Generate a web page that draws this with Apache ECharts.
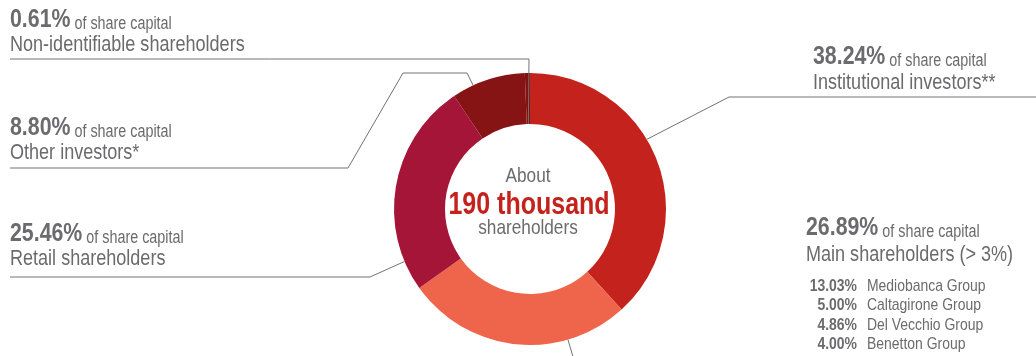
<!DOCTYPE html>
<html>
<head>
<meta charset="utf-8">
<script src="https://cdn.jsdelivr.net/npm/echarts@6/dist/echarts.min.js"></script>
<style>
  html, body { margin: 0; padding: 0; background: #ffffff; }
  #chart { width: 1036px; height: 356px; }
</style>
</head>
<body>
<div id="chart"></div>
<script>
// Shareholder structure (% of share capital), clockwise from 12 o'clock
const categories = [
  'Institutional investors**',
  'Main shareholders (> 3%)',
  'Retail shareholders',
  'Other investors*',
  'Non-identifiable shareholders'
];
const shares = [38.24, 26.89, 25.46, 8.80, 0.61];

// Breakdown of the main shareholders block
const mainHolders = ['Mediobanca Group', 'Caltagirone Group', 'Del Vecchio Group', 'Benetton Group'];
const mainHolderShares = [13.03, 5.00, 4.86, 4.00];

const centerLines = ['About', '190 thousand', 'shareholders'];
const capitalNote = 'of share capital';

// ---- styling / layout ----
// a condensed grotesque look: Liberation Sans squeezed horizontally
const FONT = "'Liberation Sans', Arial, sans-serif";
const SQUEEZE = 0.82;
const GREY = '#6b6b6e';
const LINE = '#737373';
const sliceColors = ['#c4221c', '#ef654b', '#a51538', '#871414', '#7d1313'];
const CX = 530, CY = 209, R_IN = 85, R_OUT = 136;

// label blocks: text position + leader line route (ring anchor is added from the slice geometry)
const blocks = [
  { x: 813, b1: 65,  b2: 90,  frac: 0.43, r: R_OUT, route: [[729, 97], [1036, 97]] },
  { x: 806, b1: 236, b2: 262, frac: 0.27, r: R_OUT, route: [[574, 360]] },
  { x: 10,  b1: 242, b2: 266, frac: 0.14, r: R_OUT, route: [[370, 277], [10, 277]] },
  { x: 10,  b1: 136, b2: 160, frac: 0.29, r: R_OUT, route: [[467, 73], [403, 73], [348, 168], [10, 168]] },
  { x: 10,  b1: 28,  b2: 52,  frac: 0.5,  r: R_IN,  route: [[529, 59], [10, 59]] }
];

function ringPoint(deg, r) {
  const a = deg * Math.PI / 180;
  return [CX + r * Math.sin(a), CY - r * Math.cos(a)];
}

const total = shares.reduce((s, v) => s + v, 0);
let acc = 0;
const graphics = [];

// places text so that its alphabetic baseline sits at `baseline`
function plainText(x, baseline, text, size, opts) {
  opts = opts || {};
  return {
    type: 'text', z: 10, silent: true,
    x: x, y: baseline - 0.3 * size, scaleX: SQUEEZE,
    style: {
      text: text, fontFamily: FONT, fontSize: size,
      fontWeight: opts.weight || 'normal',
      fill: opts.fill || GREY,
      align: opts.align || 'left', verticalAlign: 'middle'
    }
  };
}

function headerText(x, baseline, value) {
  const F1 = 26, F2 = 17.5;
  return {
    type: 'text', z: 10, silent: true,
    x: x, y: baseline + 0.2 * F1, scaleX: SQUEEZE,
    style: {
      text: '{p|' + value.toFixed(2) + '%}{s| ' + capitalNote + '}',
      align: 'left', verticalAlign: 'bottom',
      rich: {
        p: { fontFamily: FONT, fontSize: F1, fontWeight: 'bold', fill: GREY,
             lineHeight: F1, verticalAlign: 'bottom' },
        s: { fontFamily: FONT, fontSize: F2, fill: GREY,
             lineHeight: 0.4 * F1 + 0.6 * F2, verticalAlign: 'bottom' }
      }
    }
  };
}

shares.forEach((v, i) => {
  const start = acc / total * 360;
  acc += v;
  const end = acc / total * 360;
  const blk = blocks[i];
  const anchor = ringPoint(start + (end - start) * blk.frac, blk.r);
  graphics.push({
    type: 'polyline', z: 5, silent: true,
    shape: { points: [anchor].concat(blk.route) },
    style: { stroke: LINE, lineWidth: 1, fill: null }
  });
  graphics.push(headerText(blk.x, blk.b1, v));
  graphics.push(plainText(blk.x, blk.b2, categories[i], 22));
});

// main shareholders breakdown
const rowBaselines = [291, 310, 330, 349];
mainHolders.forEach((name, i) => {
  graphics.push(plainText(857, rowBaselines[i], mainHolderShares[i].toFixed(2) + '%', 17,
    { weight: 'bold', align: 'right' }));
  graphics.push(plainText(867, rowBaselines[i], name, 17));
});

// centre caption
graphics.push(plainText(528, 183, centerLines[0], 21, { align: 'center' }));
graphics.push(plainText(529, 215, centerLines[1], 30.5, { align: 'center', weight: 'bold', fill: '#c4221c' }));
graphics.push(plainText(528, 235, centerLines[2], 21, { align: 'center' }));

const chart = echarts.init(document.getElementById('chart'), null, { renderer: 'canvas' });
chart.setOption({
  animation: false,
  backgroundColor: '#ffffff',
  series: [{
    type: 'pie',
    center: [CX, CY],
    radius: [R_IN, R_OUT],
    startAngle: 90,
    clockwise: true,
    silent: true,
    label: { show: false },
    labelLine: { show: false },
    itemStyle: { borderWidth: 0 },
    data: shares.map((v, i) => ({ name: categories[i], value: v, itemStyle: { color: sliceColors[i] } }))
  }],
  graphic: graphics
});
</script>
</body>
</html>
